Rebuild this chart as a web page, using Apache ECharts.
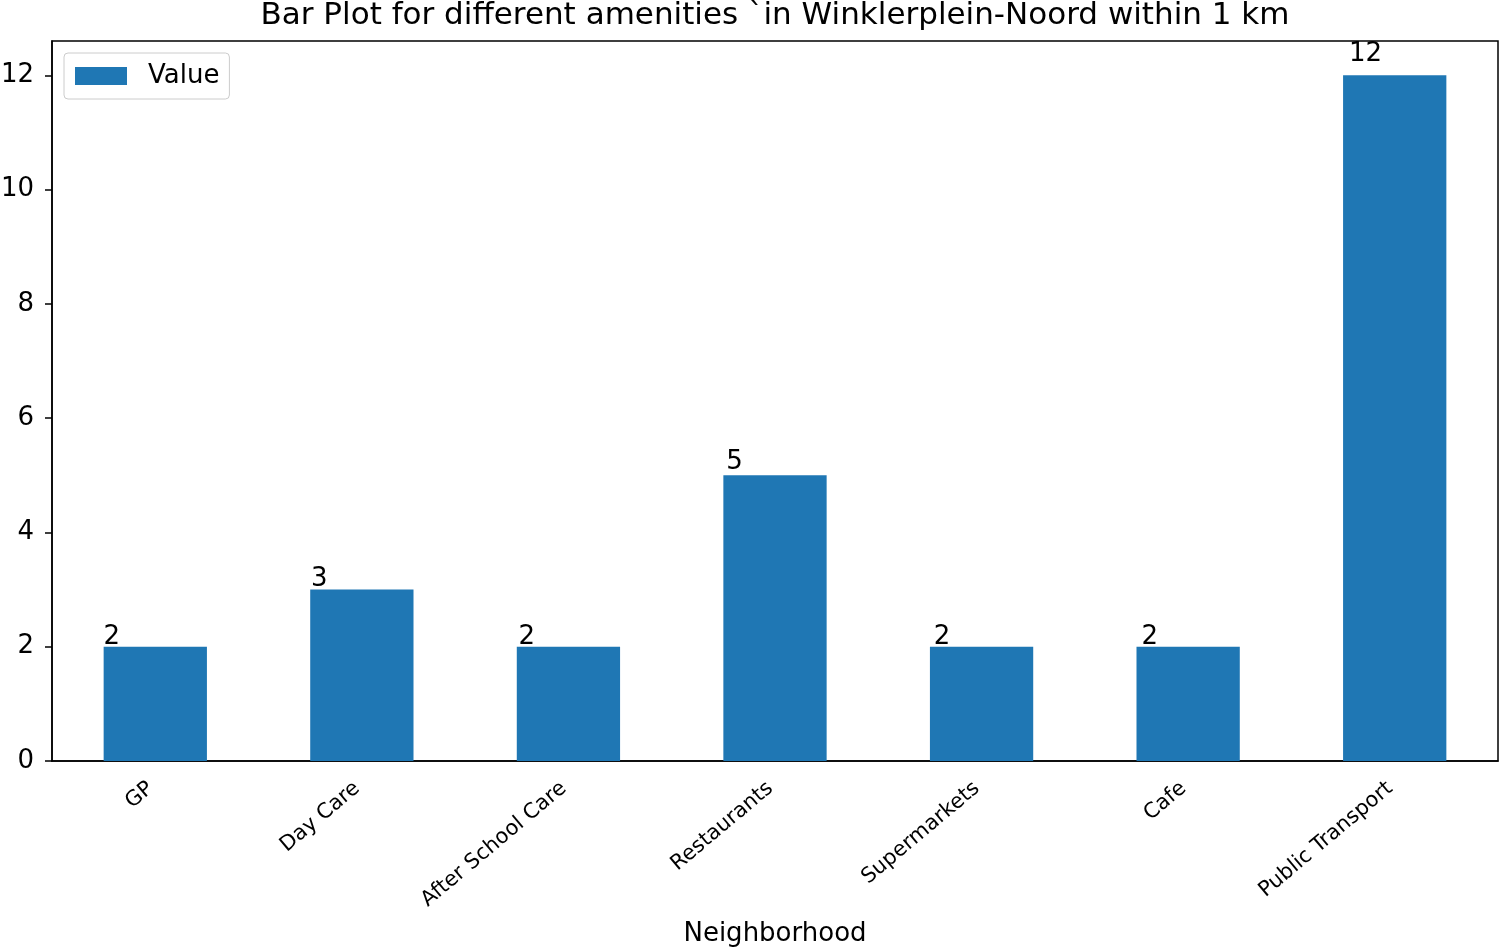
<!DOCTYPE html>
<html>
<head>
<meta charset="utf-8">
<script src="https://cdn.jsdelivr.net/npm/echarts@6/dist/echarts.min.js"></script>
<style>html,body{margin:0;padding:0;background:#fff;overflow:hidden;}#c{width:1500px;height:947px;}</style>
</head>
<body>
<div id="c"></div>
<script>
const categories = ['GP', 'Day Care', 'After School Care', 'Restaurants', 'Supermarkets', 'Cafe', 'Public Transport'];
const values = [2, 3, 2, 5, 2, 2, 12];
const yTicks = [0, 2, 4, 6, 8, 10, 12];
const titleText = 'Bar Plot for different amenities `in Winklerplein-Noord within 1 km';

const FONT = 'DejaVu Sans';
const GRID = { left: 52, right: 2, top: 41, bottom: 186 };
const Y_MAX = 12.6;
const chartW = 1500, chartH = 947;
const bandPx = (chartW - GRID.left - GRID.right) / categories.length;
const unitPx = (chartH - GRID.top - GRID.bottom) / Y_MAX;

// annotation placed like matplotlib annotate at (x*1.005, h*1.02)
const barData = values.map((v, i) => ({
  value: v,
  label: { offset: [(i - 0.25) * 0.005 * bandPx, 6 - v * 0.02 * unitPx] }
}));

const chart = echarts.init(document.getElementById('c'));
chart.setOption({
  backgroundColor: '#fff',
  animation: false,
  textStyle: { fontFamily: FONT, color: '#000' },
  title: {
    text: titleText,
    left: 775,
    top: 0,
    padding: 0,
    textAlign: 'center',
    textStyle: { fontFamily: FONT, fontSize: 31, fontWeight: 'normal', color: '#000' }
  },
  legend: {
    data: ['Value'],
    left: 64,
    top: 53,
    orient: 'vertical',
    icon: 'rect',
    itemWidth: 52,
    itemHeight: 18,
    padding: [10, 10, 10, 11],
    borderColor: '#cccccc',
    borderWidth: 1,
    borderRadius: 4,
    backgroundColor: 'rgba(255,255,255,0.8)',
    textStyle: { fontFamily: FONT, fontSize: 26, color: '#000', padding: [0, 0, 0, 16] }
  },
  grid: {
    left: GRID.left, right: GRID.right, top: GRID.top, bottom: GRID.bottom,
    show: true,
    borderColor: '#000',
    borderWidth: 1.5,
    containLabel: false,
    outerBoundsMode: 'none'
  },
  xAxis: {
    type: 'category',
    data: categories,
    boundaryGap: true,
    name: 'Neighborhood',
    nameLocation: 'middle',
    nameGap: 160,
    nameTextStyle: { fontFamily: FONT, fontSize: 26, color: '#000' },
    axisLine: { lineStyle: { color: '#000', width: 1.5 } },
    axisTick: { alignWithLabel: true, length: 7, lineStyle: { color: '#000', width: 1.5 } },
    axisLabel: {
      rotate: 40,
      interval: 0,
      margin: 21,
      fontFamily: FONT,
      fontSize: 21,
      color: '#000',
      padding: [0, 6, 0, 0]
    },
    splitLine: { show: false }
  },
  yAxis: {
    type: 'value',
    min: 0,
    max: Y_MAX,
    interval: 2,
    axisLine: { show: true, lineStyle: { color: '#000', width: 1.5 } },
    axisTick: { show: true, length: 7, customValues: yTicks, lineStyle: { color: '#000', width: 1.5 } },
    axisLabel: { customValues: yTicks, margin: 18, fontFamily: FONT, fontSize: 26, color: '#000' },
    splitLine: { show: false }
  },
  series: [{
    name: 'Value',
    type: 'bar',
    data: barData,
    barWidth: '50%',
    itemStyle: { color: '#1f77b4' },
    label: {
      show: true,
      position: [0, 0],
      align: 'left',
      verticalAlign: 'bottom',
      fontFamily: FONT,
      fontSize: 26,
      color: '#000'
    }
  }]
});
</script>
</body>
</html>
